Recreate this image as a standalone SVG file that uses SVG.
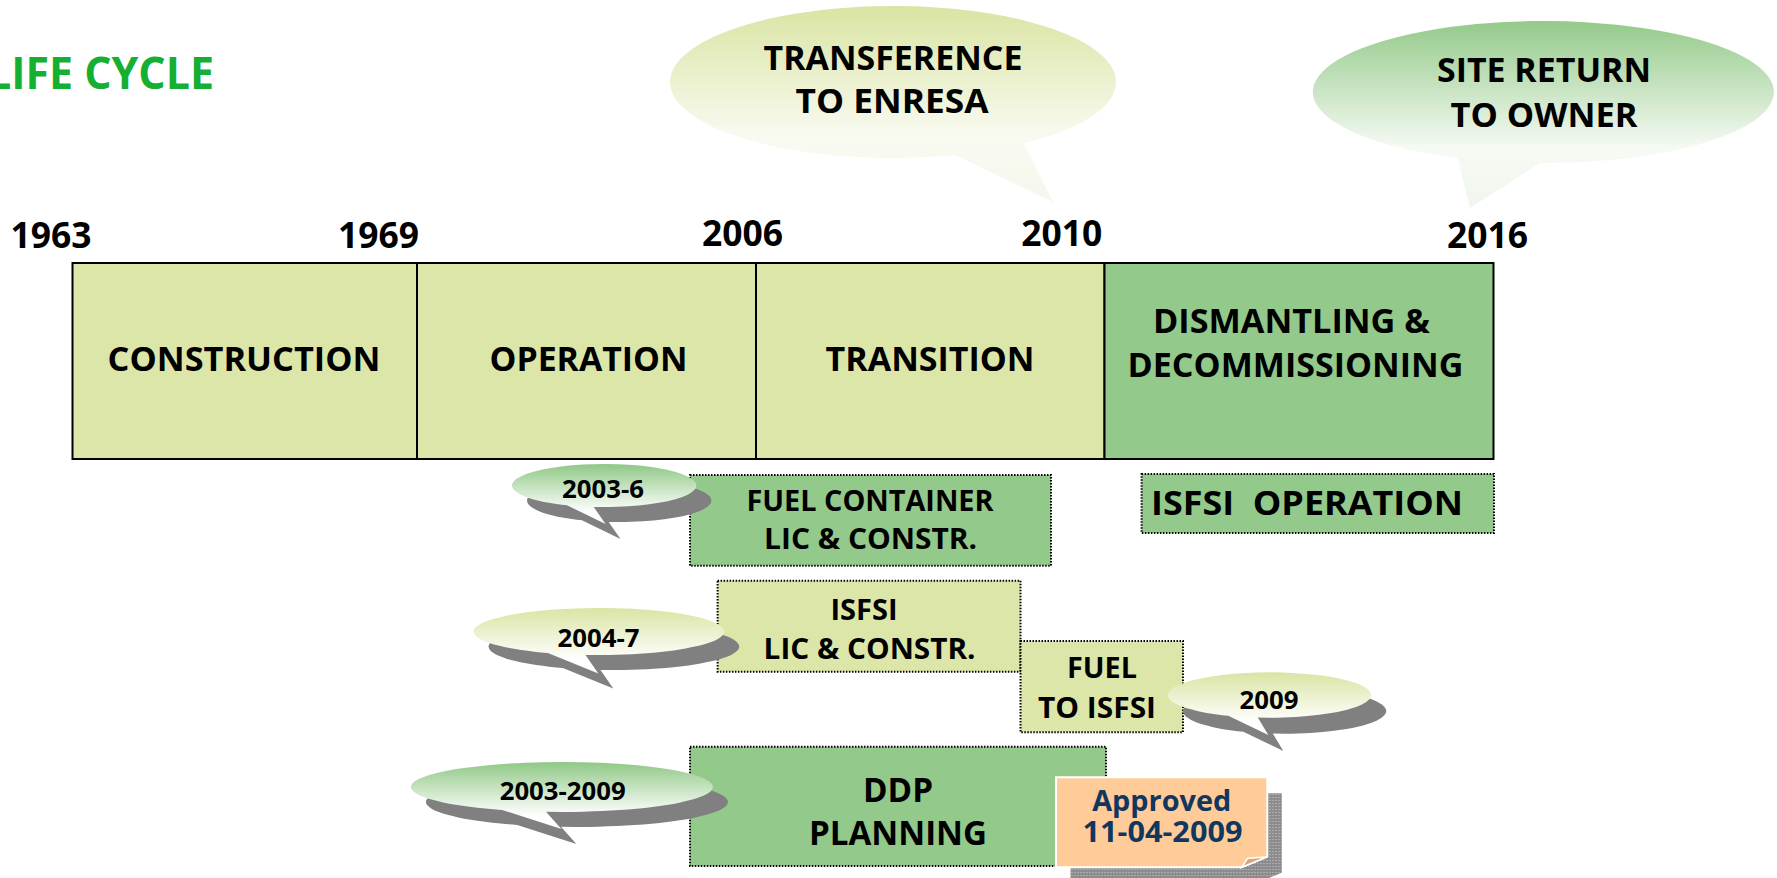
<svg xmlns="http://www.w3.org/2000/svg" width="1777" height="878" viewBox="0 0 1777 878">
  <defs>
    <style>
      text { font-family: "Open Sans", "Liberation Sans", "DejaVu Sans", sans-serif; font-weight: 700; fill: #000; text-anchor: middle; }
      .title { fill: #14AF33; font-size: 45px; text-anchor: start; }
      .yr { font-size: 35px; }
      .ph { font-size: 34px; }
      .cb { font-size: 34px; }
      .bx { font-size: 29px; }
      .sm { font-size: 25px; }
      .note { fill: #12375F; font-size: 29px; }
      .bar { stroke: #000; stroke-width: 2; }
      .light { fill: #DDE6A9; }
      .mid { fill: #93C98A; }
      .dotbox { stroke: #000; stroke-width: 2; stroke-dasharray: 1.5 1.5; }
      .shadow { fill: #808080; }
    </style>
    <!-- callout fills: tint at the top fading to white -->
    <linearGradient id="gY" x1="0" y1="0" x2="0" y2="1">
      <stop offset="0" stop-color="#DAE4A3"/>
      <stop offset="0.8" stop-color="#FFFFFF"/>
    </linearGradient>
    <linearGradient id="gG" x1="0" y1="0" x2="0" y2="1">
      <stop offset="0" stop-color="#90C886"/>
      <stop offset="0.8" stop-color="#FFFFFF"/>
    </linearGradient>
    <linearGradient id="gYbig" x1="0" y1="0" x2="0" y2="1">
      <stop offset="0" stop-color="#DAE4A3"/>
      <stop offset="0.68" stop-color="#F9FBF2"/>
      <stop offset="1" stop-color="#F5F7EC"/>
    </linearGradient>
    <linearGradient id="gGbig" x1="0" y1="0" x2="0" y2="1">
      <stop offset="0" stop-color="#94CA8A"/>
      <stop offset="0.68" stop-color="#F6FAF4"/>
      <stop offset="1" stop-color="#F0F6EE"/>
    </linearGradient>
    <pattern id="grain" width="3" height="3" patternUnits="userSpaceOnUse">
      <rect width="3" height="3" fill="#8C8C8C"/>
      <rect x="1" y="1" width="1" height="1" fill="#C9C9C9"/>
    </pattern>
  </defs>

  <!-- heading -->
  <text id="title" class="title" x="-13" y="89" textLength="227" lengthAdjust="spacingAndGlyphs">LIFE CYCLE</text>

  <!-- milestone callouts above the timeline -->
  <g id="transference">
    <path d="M955,155 L1053,202 L1024,143.5 A223,76 0 1 0 955,155 Z" fill="url(#gYbig)"/>
    <text class="cb" x="893" y="70" textLength="259" lengthAdjust="spacingAndGlyphs">TRANSFERENCE</text>
    <text class="cb" x="892" y="112.7" textLength="193" lengthAdjust="spacingAndGlyphs">TO ENRESA</text>
  </g>
  <g id="site-return">
    <path d="M1457.5,157.9 L1470,208 L1540,163 A230.5,71 0 1 0 1457.5,157.9 Z" fill="url(#gGbig)"/>
    <text class="cb" x="1544" y="81.7" textLength="214" lengthAdjust="spacingAndGlyphs">SITE RETURN</text>
    <text class="cb" x="1544" y="126.7" textLength="187" lengthAdjust="spacingAndGlyphs">TO OWNER</text>
  </g>

  <!-- year marks -->
  <g id="years">
    <text class="yr" x="51" y="248" textLength="81" lengthAdjust="spacingAndGlyphs">1963</text>
    <text class="yr" x="378.4" y="248" textLength="81" lengthAdjust="spacingAndGlyphs">1969</text>
    <text class="yr" x="742.4" y="246" textLength="81" lengthAdjust="spacingAndGlyphs">2006</text>
    <text class="yr" x="1061.7" y="246" textLength="81" lengthAdjust="spacingAndGlyphs">2010</text>
    <text class="yr" x="1487.5" y="248" textLength="81" lengthAdjust="spacingAndGlyphs">2016</text>
  </g>

  <!-- timeline phases -->
  <g id="construction">
    <rect class="bar light" x="72.5" y="263" width="344.5" height="196"/>
    <text class="ph" x="244" y="371" textLength="273" lengthAdjust="spacingAndGlyphs">CONSTRUCTION</text>
  </g>
  <g id="operation">
    <rect class="bar light" x="417" y="263" width="339" height="196"/>
    <text class="ph" x="588.5" y="371" textLength="198" lengthAdjust="spacingAndGlyphs">OPERATION</text>
  </g>
  <g id="transition">
    <rect class="bar light" x="756" y="263" width="348.5" height="196"/>
    <text class="ph" x="930" y="371" textLength="209" lengthAdjust="spacingAndGlyphs">TRANSITION</text>
  </g>
  <g id="dismantling">
    <rect class="bar mid" x="1104.5" y="263" width="389" height="196"/>
    <text class="ph" x="1291.5" y="333" textLength="277" lengthAdjust="spacingAndGlyphs">DISMANTLING &amp;</text>
    <text class="ph" x="1295.5" y="376.7" textLength="336" lengthAdjust="spacingAndGlyphs">DECOMMISSIONING</text>
  </g>

  <!-- activities -->
  <g id="fuel-container">
    <rect class="dotbox mid" x="690" y="475" width="361" height="90.7"/>
    <text class="bx" x="870" y="510.7" textLength="247" lengthAdjust="spacingAndGlyphs">FUEL CONTAINER</text>
    <text class="bx" x="870.6" y="549" textLength="213" lengthAdjust="spacingAndGlyphs">LIC &amp; CONSTR.</text>
  </g>
  <g id="isfsi-operation">
    <rect class="dotbox mid" x="1141.6" y="474" width="352.4" height="59"/>
    <text class="cb" x="1307" y="515" textLength="312" lengthAdjust="spacingAndGlyphs" xml:space="preserve">ISFSI  OPERATION</text>
  </g>
  <g id="isfsi-lic">
    <rect class="dotbox light" x="717.6" y="580.7" width="302.9" height="91"/>
    <text class="bx" x="864" y="620" textLength="67" lengthAdjust="spacingAndGlyphs">ISFSI</text>
    <text class="bx" x="869.6" y="659" textLength="212" lengthAdjust="spacingAndGlyphs">LIC &amp; CONSTR.</text>
  </g>
  <g id="fuel-to-isfsi">
    <rect class="dotbox light" x="1020.5" y="641" width="162.5" height="91.3"/>
    <text class="bx" x="1102" y="678.3" textLength="70" lengthAdjust="spacingAndGlyphs">FUEL</text>
    <text class="bx" x="1097" y="718.3" textLength="118" lengthAdjust="spacingAndGlyphs">TO ISFSI</text>
  </g>
  <g id="ddp-planning">
    <rect class="dotbox mid" x="690" y="746.7" width="416" height="119.3"/>
    <text class="cb" x="898" y="801.7" textLength="70" lengthAdjust="spacingAndGlyphs">DDP</text>
    <text class="cb" x="898" y="845" textLength="178" lengthAdjust="spacingAndGlyphs">PLANNING</text>
  </g>

  <!-- date callouts, each with a drop shadow -->
  <g id="date-2003-6">
    <path class="shadow" transform="translate(15,15)" d="M566.9,505.2 L605.5,524 L593.7,506.9 A92.2,21.5 0 1 0 566.9,505.2 Z"/>
    <path d="M566.9,505.2 L605.5,524 L593.7,506.9 A92.2,21.5 0 1 0 566.9,505.2 Z" fill="url(#gG)"/>
    <text class="sm" x="603" y="497.5" textLength="82" lengthAdjust="spacingAndGlyphs">2003-6</text>
  </g>
  <g id="date-2004-7">
    <path class="shadow" transform="translate(15,15)" d="M547.9,653 L598.3,673.5 L585.5,654.9 A125.3,23.5 0 1 0 547.9,653 Z"/>
    <path d="M547.9,653 L598.3,673.5 L585.5,654.9 A125.3,23.5 0 1 0 547.9,653 Z" fill="url(#gY)"/>
    <text class="sm" x="598.6" y="646.7" textLength="82" lengthAdjust="spacingAndGlyphs">2004-7</text>
  </g>
  <g id="date-2009">
    <path class="shadow" transform="translate(15,16)" d="M1228.3,715.8 L1268.3,735 L1257.8,717.6 A101.7,22.7 0 1 0 1228.3,715.8 Z"/>
    <path d="M1228.3,715.8 L1268.3,735 L1257.8,717.6 A101.7,22.7 0 1 0 1228.3,715.8 Z" fill="url(#gY)"/>
    <text class="sm" x="1269" y="709.3" textLength="59" lengthAdjust="spacingAndGlyphs">2009</text>
  </g>
  <g id="date-2003-2009">
    <path class="shadow" transform="translate(15,15)" d="M502.2,809.9 L561.4,829 L546,811.8 A151,25 0 1 0 502.2,809.9 Z"/>
    <path d="M502.2,809.9 L561.4,829 L546,811.8 A151,25 0 1 0 502.2,809.9 Z" fill="url(#gG)"/>
    <text class="sm" x="562.7" y="800" textLength="126" lengthAdjust="spacingAndGlyphs">2003-2009</text>
  </g>

  <!-- approval note with folded corner -->
  <g id="approved-note">
    <path transform="translate(14.5,16)" d="M1056,777.3 H1267.3 V856.7 L1241.7,867.3 H1056 Z" fill="url(#grain)"/>
    <path d="M1056,777.3 H1267.3 V856.7 L1241.7,867.3 H1056 Z" fill="#FFCC99" stroke="#FFFFFF" stroke-width="2"/>
    <path d="M1241.7,867.3 L1247.5,858.5 L1267.3,856.7 Z" fill="#D6A57A" stroke="#FFFFFF" stroke-width="1.5"/>
    <text class="note" x="1161.7" y="810.7" textLength="139" lengthAdjust="spacingAndGlyphs">Approved</text>
    <text class="note" x="1162.5" y="841.7" textLength="160" lengthAdjust="spacingAndGlyphs">11-04-2009</text>
  </g>
</svg>
